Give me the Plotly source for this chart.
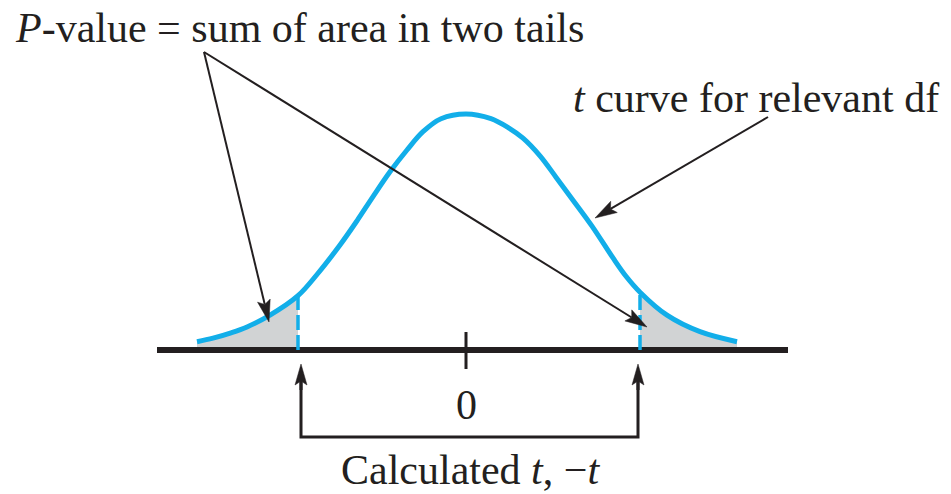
import plotly.graph_objects as go

# ---- data (t units / density units) ----
left_t = [-2.69, -2.53, -2.35, -2.19, -1.96, -1.68, -1.49, -1.26, -1.09, -0.93, -0.76, -0.59, -0.43, -0.25, 0.0]
left_d = [0.014, 0.020, 0.029, 0.039, 0.059, 0.092, 0.128, 0.178, 0.219, 0.260, 0.302, 0.339, 0.370, 0.392, 0.400]
right_t = [0.25, 0.43, 0.57, 0.74, 0.90, 1.07, 1.26, 1.47, 1.60, 1.74, 2.01, 2.34, 2.71]
right_d = [0.392, 0.376, 0.359, 0.329, 0.293, 0.254, 0.210, 0.156, 0.125, 0.098, 0.059, 0.031, 0.014]
crit_left = -1.68
crit_right = 1.74
axis_extent = [-3.09, 3.22]
tick_values = [0]
tick_labels = ["0"]

curve_t = left_t + right_t
curve_d = left_d + right_d

BLACK = "#231f20"
CYAN = "#12aee9"
GRAY = "#d1d3d4"
FONT = "Liberation Serif, Times New Roman, serif"

# page has an 8px body margin; the figure is sized to fit the 951x494 window
OFF = 8
FW, FH = 951 - OFF, 494 - OFF
X0PX, Y0PX, XSCALE, YSCALE = 466, 350, 100.0, 590.0   # pixel position of t=0 / density 0

fig = go.Figure()

# shaded tails
lt = [t for t in curve_t if t <= crit_left]
ld = [d for t, d in zip(curve_t, curve_d) if t <= crit_left]
rt = [t for t in curve_t if t >= crit_right]
rd = [d for t, d in zip(curve_t, curve_d) if t >= crit_right]
for xs, ys in [(lt, ld), (rt, rd)]:
    fig.add_trace(go.Scatter(x=xs, y=ys, mode="lines", line=dict(width=0, shape="spline"),
                             fill="tozeroy", fillcolor=GRAY, hoverinfo="skip", showlegend=False))

# horizontal axis line
fig.add_trace(go.Scatter(x=axis_extent, y=[0, 0], mode="lines",
                         line=dict(color=BLACK, width=6), hoverinfo="skip", showlegend=False))

# dashed lines at critical values
for c in (crit_left, crit_right):
    dc = curve_d[curve_t.index(c)]
    fig.add_trace(go.Scatter(x=[c, c], y=[0, dc], mode="lines",
                             line=dict(color=CYAN, width=3.5, dash="15px,5px"),
                             hoverinfo="skip", showlegend=False))

# t curve
fig.add_trace(go.Scatter(x=curve_t, y=curve_d, mode="lines",
                         line=dict(color=CYAN, width=5, shape="spline", smoothing=1.0),
                         hoverinfo="skip", showlegend=False))

# tick at 0
for tv in tick_values:
    fig.add_trace(go.Scatter(x=[tv, tv], y=[0.0305, -0.0322], mode="lines",
                             line=dict(color=BLACK, width=3), hoverinfo="skip", showlegend=False))


# ---- arrows drawn in pixel space (paper coords) ----
def px(x):
    return (x - OFF) / FW


def py(y):
    return 1 - (y - OFF) / FH


shapes = []


def arrow(x0, y0, x1, y1, lw=2, L=22, hw=6.5, notch=4):
    dx, dy = x1 - x0, y1 - y0
    n = (dx * dx + dy * dy) ** 0.5
    ux, uy = dx / n, dy / n
    nx, ny = -uy, ux
    bx, by = x1 - (L - notch) * ux, y1 - (L - notch) * uy
    shapes.append(dict(type="line", xref="paper", yref="paper",
                       x0=px(x0), y0=py(y0), x1=px(bx), y1=py(by),
                       line=dict(color=BLACK, width=lw)))
    p1 = (x1 - L * ux + hw * nx, y1 - L * uy + hw * ny)
    p2 = (x1 - L * ux - hw * nx, y1 - L * uy - hw * ny)
    path = "M{},{} L{},{} L{},{} L{},{} Z".format(
        px(x1), py(y1), px(p1[0]), py(p1[1]), px(bx), py(by), px(p2[0]), py(p2[1]))
    shapes.append(dict(type="path", xref="paper", yref="paper", path=path,
                       fillcolor=BLACK, line=dict(color=BLACK, width=0.5)))


# P-value pointers
arrow(204, 52, 269, 322)
arrow(204, 52, 647, 327)
# t curve pointer
arrow(768, 117, 595, 218)

# bracket below the axis
bx0, bx1, by_ = 301, 638, 437
shapes.append(dict(type="path", xref="paper", yref="paper",
                   path="M{},{} L{},{} L{},{} L{},{}".format(
                       px(bx0), py(382), px(bx0), py(by_), px(bx1), py(by_), px(bx1), py(382)),
                   line=dict(color=BLACK, width=3), fillcolor="rgba(0,0,0,0)"))
arrow(bx0, 390, bx0, 364, lw=3, L=21, hw=6, notch=4)
arrow(bx1, 390, bx1, 364, lw=3, L=21, hw=6, notch=4)

annotations = [
    dict(text="<i>P</i>-value = sum of area in two tails", x=px(299), y=py(28),
         xref="paper", yref="paper", showarrow=False, xanchor="center", yanchor="middle",
         height=36, valign="middle",
         font=dict(family=FONT, size=42, color=BLACK), borderpad=0),
    dict(text="<i>t</i> curve for relevant df", x=px(756), y=py(98),
         xref="paper", yref="paper", showarrow=False, xanchor="center", yanchor="middle",
         font=dict(family=FONT, size=42, color=BLACK)),
    dict(text="Calculated <i>t</i>, \u2212<i>t</i>", x=px(470), y=py(470),
         xref="paper", yref="paper", showarrow=False, xanchor="center", yanchor="middle",
         font=dict(family=FONT, size=42, color=BLACK)),
]
for tv, tl in zip(tick_values, tick_labels):
    annotations.append(dict(text=tl, x=tv, y=py(405), xref="x", yref="paper", showarrow=False,
                            xanchor="center", yanchor="middle",
                            font=dict(family=FONT, size=42, color=BLACK)))

x_lo = -(X0PX - OFF) / XSCALE
x_hi = (FW - (X0PX - OFF)) / XSCALE
y_hi = (Y0PX - OFF) / YSCALE
y_lo = -(FH - (Y0PX - OFF)) / YSCALE

fig.update_layout(
    width=FW, height=FH, autosize=False,
    margin=dict(l=0, r=0, t=0, b=0, pad=0),
    paper_bgcolor="white", plot_bgcolor="white",
    xaxis=dict(range=[x_lo, x_hi], visible=False, fixedrange=True),
    yaxis=dict(range=[y_lo, y_hi], visible=False, fixedrange=True),
    shapes=shapes, annotations=annotations, showlegend=False,
)

fig.write_html("out.html")
